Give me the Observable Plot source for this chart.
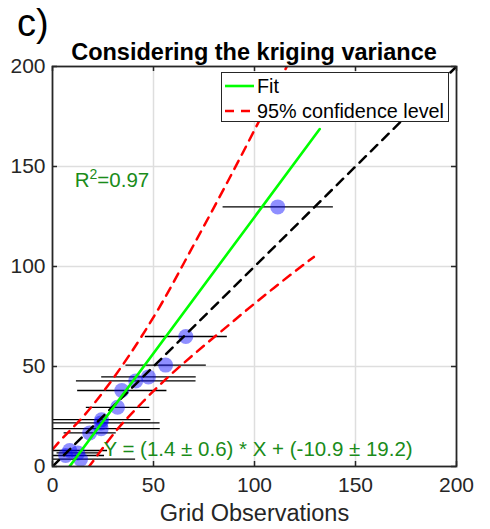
<!DOCTYPE html>
<html>
<head>
<meta charset="utf-8">
<script src="https://cdn.jsdelivr.net/npm/d3@7"></script>
<script src="https://cdn.jsdelivr.net/npm/@observablehq/plot@0.6"></script>
<style>
  body { margin: 0; background: #fff; }
  #wrap { position: relative; width: 490px; height: 529px; overflow: hidden; font-family: "Liberation Sans", Arial, Helvetica, sans-serif; }
  #wrap svg.plot { position: absolute; left: 0; top: 0; }
  #panel { position: absolute; left: 17px; top: 4px; font-size: 38px; line-height: 1; color: #000; }
  #title { position: absolute; left: 0; width: 508px; text-align: center; top: 39px; font-size: 23.5px; font-weight: bold; color: #000; white-space: nowrap; }
  #legend { position: absolute; left: 221px; top: 72px; width: 226px; height: 48px; border: 1.6px solid #262626; background: #fff; box-sizing: content-box; }
  .row { position: absolute; left: 3px; height: 24px; display: flex; align-items: center; font-size: 19.8px; color: #000; white-space: nowrap; }
  .row svg { margin-right: 3px; }
</style>
</head>
<body>
<div id="wrap">
  <div id="panel">c)</div>
</div>
<script>
// ---- data ----
const obsX   = [111.5, 66.0, 56.0, 47.5, 41.2, 34.3, 32.2, 24.3, 24.0, 24.1, 18.4, 8.5, 12.5, 6.5, 13.9];
const estY   = [129.8, 65.0, 50.7, 44.8, 42.8, 38.0, 29.6, 23.4, 21.8, 18.9, 16.8, 8.0, 6.8, 5.5, 3.7];
const obsErr = [27.3, 20.3, 19.9, 23.4, 29.6, 22.1, 15.7, 24.2, 29.0, 29.0, 12.9, 18.5, 10.5, 19.0, 27.0];

const fitX = [0, 132.3];
const fitY = [-11.5, 168.7];

const idX = [0, 200];
const idY = [0, 200];

const upperX = [0, 2.3, 15.5, 37.8, 54.3, 68.3, 86.5, 116];
const upperY = [8.5, 11.2, 25.3, 55.3, 82, 107.8, 142, 200];
const lowerX = [17.5, 19.6, 31.2, 44.4, 89.8, 99.7, 109.6, 129.4];
const lowerY = [-0.8, 2, 17.5, 32, 72.9, 81.2, 89.3, 104.8];

const ticks = [0, 50, 100, 150, 200];
const grid = [50, 100, 150];

const titleText = "Considering the kriging variance";
const xLabel = "Grid Observations";
const r2Text = "R2=0.97";
const eqText = "Y = (1.4 ± 0.6) * X + (-10.9 ± 19.2)";
const annotations = [
  {x: 11, y: 140, text: r2Text},
  {x: 25.2, y: 5.3, text: eqText}
];

// ---- tables ----
const pts = obsX.map((x, i) => ({x, y: estY[i], x1: x - obsErr[i], x2: x + obsErr[i]}));
const toPts = (xs, ys) => xs.map((x, i) => ({x, y: ys[i]}));
const fit = toPts(fitX, fitY);
const ident = toPts(idX, idY);
const upper = toPts(upperX, upperY);
const lower = toPts(lowerX, lowerY);

const W = 490, H = 529, mL = 52, mR = 34, mT = 66, mB = 63;
const fw = W - mL - mR, fh = H - mT - mB;
const axisCol = "#262626";
const green = "#1a8c1a";

const chart = Plot.plot({
  width: W, height: H,
  marginLeft: mL, marginRight: mR, marginTop: mT, marginBottom: mB,
  x: {domain: [0, 200]},
  y: {domain: [0, 200]},
  style: {fontFamily: '"Liberation Sans", Arial, Helvetica, sans-serif', color: axisCol, background: "#fff"},
  marks: [
    Plot.ruleX(grid, {stroke: "#dedede", strokeWidth: 1.5}),
    Plot.ruleY(grid, {stroke: "#dedede", strokeWidth: 1.5}),
    Plot.link(pts, {x1: "x1", x2: "x2", y1: "y", y2: "y", stroke: "#000", strokeWidth: 1.3, clip: true}),
    Plot.dot(pts, {x: "x", y: "y", r: 7.5, fill: "#0000ff", fillOpacity: 0.44, stroke: "none", clip: true}),
    Plot.line(ident, {x: "x", y: "y", stroke: "#000", strokeWidth: 2.5, strokeDasharray: "9,7", clip: true}),
    Plot.line(fit, {x: "x", y: "y", stroke: "#00ff00", strokeWidth: 2.6, clip: true}),
    Plot.line(upper, {x: "x", y: "y", stroke: "#ff0000", strokeWidth: 2.5, strokeDasharray: "9,7", clip: true, curve: "monotone-x"}),
    Plot.line(lower, {x: "x", y: "y", stroke: "#ff0000", strokeWidth: 2.5, strokeDasharray: "9,7", clip: true, curve: "monotone-x"}),
    Plot.text(annotations, {x: "x", y: "y", text: "text", textAnchor: "start", lineAnchor: "bottom", fill: green, fontSize: 20.5}),
    // inward ticks on all four sides
    Plot.ruleX(ticks, {stroke: axisCol, strokeWidth: 1.5, insetTop: fh - 5}),
    Plot.ruleX(ticks, {stroke: axisCol, strokeWidth: 1.5, insetBottom: fh - 5}),
    Plot.ruleY(ticks, {stroke: axisCol, strokeWidth: 1.5, insetRight: fw - 5}),
    Plot.ruleY(ticks, {stroke: axisCol, strokeWidth: 1.5, insetLeft: fw - 5}),
    Plot.frame({stroke: axisCol, strokeWidth: 1.8}),
    Plot.axisX(ticks, {tickSize: 0, tickPadding: 11, fontSize: 21, label: null}),
    Plot.axisY(ticks, {tickSize: 0, tickPadding: 7, fontSize: 21, label: null}),
    Plot.text([xLabel], {frameAnchor: "bottom", dy: 47, lineAnchor: "middle", fontSize: 23.5, fill: axisCol})
  ]
});
chart.classList.add("plot");
const wrap = document.getElementById("wrap");
wrap.insertBefore(chart, wrap.firstChild);

// superscript in R^2
chart.querySelectorAll("text").forEach(el => {
  if (el.textContent === r2Text) {
    el.textContent = "";
    const ns = "http://www.w3.org/2000/svg";
    const a = document.createElementNS(ns, "tspan"); a.textContent = "R";
    const b = document.createElementNS(ns, "tspan"); b.textContent = "2";
    b.setAttribute("font-size", "14"); b.setAttribute("dy", "-8");
    const c = document.createElementNS(ns, "tspan"); c.textContent = "=0.97";
    c.setAttribute("dy", "8");
    el.append(a, b, c);
  }
});

// title and legend
const t = document.createElement("div");
t.id = "title"; t.textContent = titleText;
wrap.appendChild(t);

const legendItems = [
  {label: "Fit", color: "#00ff00", dash: null},
  {label: "95% confidence level", color: "#ff0000", dash: "9,7"}
];
const lg = document.createElement("div");
lg.id = "legend";
legendItems.forEach((d, i) => {
  const row = document.createElement("div");
  row.className = "row";
  row.style.top = (1 + i * 25) + "px";
  row.innerHTML = `<svg width="29" height="10"><line x1="0" x2="29" y1="5" y2="5" stroke="${d.color}" stroke-width="2.6" ${d.dash ? `stroke-dasharray="${d.dash}"` : ""}/></svg><span>${d.label}</span>`;
  lg.appendChild(row);
});
wrap.appendChild(lg);
</script>
</body>
</html>
